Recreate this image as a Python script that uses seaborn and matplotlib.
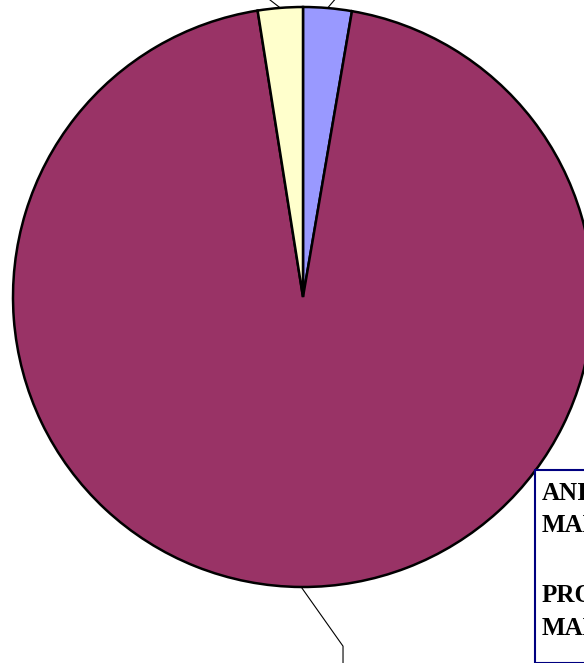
import numpy as np
import matplotlib
matplotlib.use("Agg")
import matplotlib.pyplot as plt
import seaborn as sns
from matplotlib.patches import Rectangle

# slice values (percent), clockwise from the top
categories = ['Blue share', 'Main share', 'Yellow share']
values = [2.7, 94.8, 2.5]
colors = ['#9999FF', '#993366', '#FFFFCC']

# legend text (cut off at the right edge in the reference)
legend_lines = ['ANIMAL', 'MANURE', 'PROCESSED', 'MANURE']

sns.set_style('white')
plt.rcParams['font.family'] = ['Liberation Serif', 'DejaVu Serif']

fig = plt.figure(figsize=(5.84, 6.63), dpi=100)
ax = fig.add_axes([0, 0, 1, 1])

wedges, _ = ax.pie(values, colors=colors, startangle=90, counterclock=False,
                   radius=1.0, center=(0, 0),
                   wedgeprops=dict(edgecolor='black', linewidth=1.8))

# leader lines from the middle of each slice
def mid_point(w):
    a = np.deg2rad((w.theta1 + w.theta2) / 2)
    return np.cos(a), np.sin(a)

x0, y0 = mid_point(wedges[0])
ax.plot([x0, x0 + 0.083], [y0, y0 + 0.097], color='black', lw=0.8, clip_on=False)
x0, y0 = mid_point(wedges[2])
ax.plot([x0, x0 - 0.125], [y0, y0 + 0.097], color='black', lw=0.8, clip_on=False)
x0, y0 = mid_point(wedges[1])
ax.plot([x0, 0.138, 0.138], [y0, -1.204, -1.35], color='black', lw=0.8, clip_on=False)

# radius 1 = 290 px, centre at (303, 297) px
ax.set_xlim(-303 / 290, 281 / 290)
ax.set_ylim(-366 / 290, 297 / 290)
ax.set_aspect('auto')
ax.axis('off')

# legend box
ax.add_patch(Rectangle((535 / 584, 0), 0.2, (663 - 470) / 663, transform=ax.transAxes,
                       facecolor='white', edgecolor='#000080', linewidth=1.5,
                       clip_on=False, zorder=5))
for txt, base in zip(legend_lines, [500, 532, 602, 635]):
    ax.text(542 / 584, 1 - base / 663, txt, transform=ax.transAxes, color='black',
            fontsize=18, fontweight='bold', ha='left', va='baseline', zorder=6)

fig.savefig('out.png', dpi=100)
